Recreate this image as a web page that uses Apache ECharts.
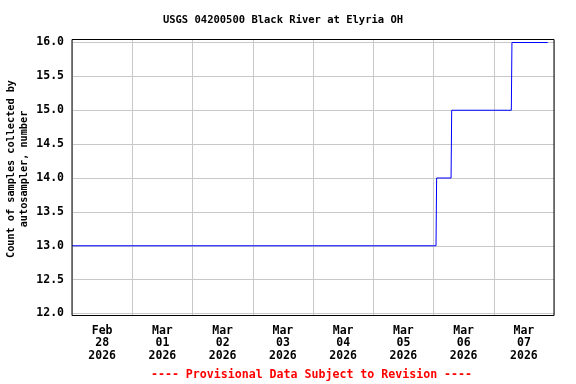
<!DOCTYPE html>
<html><head><meta charset="utf-8">
<script src="https://cdn.jsdelivr.net/npm/echarts@6/dist/echarts.min.js"></script>
<style>html,body{margin:0;padding:0;background:#fff}#c{width:576px;height:384px}</style>
</head><body><div id="c"></div>
<script>
const titleText = 'USGS 04200500 Black River at Elyria OH';
const yTitleLines = ['Count of samples collected by', 'autosampler, number'];
const footerText = '---- Provisional Data Subject to Revision ----';
const dayLabels = ['Feb\n28\n2026','Mar\n01\n2026','Mar\n02\n2026','Mar\n03\n2026','Mar\n04\n2026','Mar\n05\n2026','Mar\n06\n2026','Mar\n07\n2026'];
const xMin = '2026-02-28 00:00';
const xMax = '2026-03-08 00:00';
const times = ['2026-02-28 00:00','2026-03-06 01:00','2026-03-06 01:15','2026-03-06 07:00','2026-03-06 07:15','2026-03-07 07:00','2026-03-07 07:15','2026-03-07 21:30'];
const counts = [13,13,14,14,15,15,16,16];
const yMin = 12, yMax = 16, yStep = 0.5;

const FONT = 'DejaVu Sans Mono';
const chart = echarts.init(document.getElementById('c'), null, {renderer:'canvas'});
chart.setOption({
  animation:false,
  backgroundColor:'#fff',
  grid:[
    {left:72, right:22, top:42.5, bottom:70.5, show:false},
    {left:72, right:22, top:39.5, bottom:68.5, show:true, borderColor:'#000', borderWidth:1, backgroundColor:'transparent', z:5}
  ],
  xAxis:[
    {type:'time', gridIndex:0, min:xMin, max:xMax, show:false},
    {type:'category', gridIndex:1, data:dayLabels, boundaryGap:true,
     axisLine:{show:false}, axisTick:{show:false},
     splitLine:{show:true, lineStyle:{color:'#c8c8c8', width:1}},
     axisLabel:{interval:0, color:'#000', fontFamily:FONT, fontWeight:'bold', fontSize:11.5, lineHeight:12.5, margin:9}}
  ],
  yAxis:[
    {type:'value', gridIndex:0, min:yMin, max:yMax, interval:yStep,
     axisLine:{show:false}, axisTick:{show:false},
     splitLine:{show:true, lineStyle:{color:'#c8c8c8', width:1}},
     axisLabel:{color:'#000', fontFamily:FONT, fontWeight:'bold', fontSize:11.5, margin:8, formatter:v=>v.toFixed(1)}},
    {type:'value', gridIndex:1, show:false}
  ],
  series:[{
    type:'line', xAxisIndex:0, yAxisIndex:0,
    data: times.map((t,i)=>[t, counts[i]]),
    showSymbol:false, lineStyle:{color:'#0000ff', width:1}, z:3
  }],
  graphic:[
    {type:'text', x:283, y:20, style:{text:titleText, fill:'#000', font:'bold 10.5px "'+FONT+'"', textAlign:'center', textVerticalAlign:'middle'}},
    {type:'text', x:11, y:169, rotation:Math.PI/2, style:{text:yTitleLines[0], fill:'#000', font:'bold 10.2px "'+FONT+'"', textAlign:'center', textVerticalAlign:'middle'}},
    {type:'text', x:24, y:169, rotation:Math.PI/2, style:{text:yTitleLines[1], fill:'#000', font:'bold 10.2px "'+FONT+'"', textAlign:'center', textVerticalAlign:'middle'}},
    {type:'text', x:311.5, y:375, style:{text:footerText, fill:'#ff0000', font:'bold 11.6px "'+FONT+'"', textAlign:'center', textVerticalAlign:'middle'}}
  ]
});
</script></body></html>
